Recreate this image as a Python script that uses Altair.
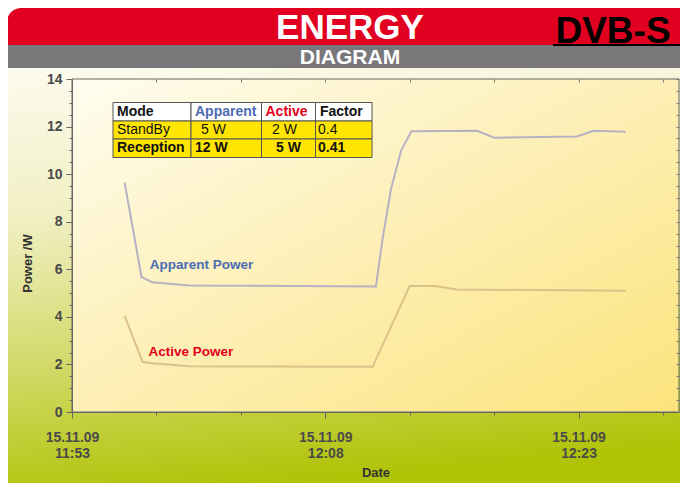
import altair as alt
import pandas as pd

DAY = "2009-11-15"

app_time = ["11:56:07", "11:57:07", "11:57:46", "11:59:56", "12:11:00", "12:11:24",
            "12:11:54", "12:12:30", "12:13:06", "12:17:00", "12:18:00", "12:22:54",
            "12:23:54", "12:25:48"]
app_power = [9.65, 5.67, 5.45, 5.32, 5.28, 7.3, 9.4, 11.0, 11.8, 11.82, 11.53, 11.58,
             11.82, 11.78]
act_time = ["11:56:07", "11:57:11", "11:57:46", "11:59:56", "12:10:48", "12:13:00",
            "12:14:30", "12:15:48", "12:25:48"]
act_power = [4.05, 2.1, 2.05, 1.92, 1.9, 5.3, 5.3, 5.15, 5.1]

series_names = ["Apparent Power", "Active Power"]
series_colors = ["#b7b2c3", "#dbc18a"]
label_colors = ["#4c6cb2", "#e2001a"]
label_time = ["11:57:36", "11:57:32"]
label_power = [6.16, 2.51]

# axis ticks
x_tick_minutes = [(11, 53), (11, 58), (12, 3), (12, 8), (12, 13), (12, 18), (12, 23), (12, 28)]
x_domain = [(11, 53, 0), (12, 28, 57)]
y_ticks = [i * 0.5 for i in range(29)]

# table
table_header = ["Mode", "Apparent", "Active", "Factor"]
table_standby = ["StandBy", "5 W", "2 W", "0.4"]
table_reception = ["Reception", "12 W", "5 W", "0.41"]
header_colors = ["#111111", "#4c6cb2", "#e2001a", "#111111"]

# ---- layout (pixels, relative to plot origin) ----
W, H = 607, 333
col_edges = [41, 119, 189.5, 243.5, 300]
row_edges = [23.5, 42, 60, 78.5]
text_pad = [[4, 4, 4, 4.5], [4, 10, 10.5, 2.5], [4, 4, 14.5, 2.5]]
row_fill = ["#ffffff", "#ffe500", "#ffe500"]
row_bold = [True, False, True]


def dt(h, m, s=0):
    return alt.DateTime(year=2009, month=11, date=15, hours=h, minutes=m, seconds=s)


lines_df = pd.DataFrame({
    "time": pd.to_datetime([f"{DAY}T{t}" for t in app_time + act_time]),
    "power": app_power + act_power,
    "series": [series_names[0]] * len(app_time) + [series_names[1]] * len(act_time),
})
labels_df = pd.DataFrame({
    "time": pd.to_datetime([f"{DAY}T{t}" for t in label_time]),
    "power": label_power,
    "series": series_names,
    "col": label_colors,
})

# table cells
cells, texts = [], []
for r, row in enumerate([table_header, table_standby, table_reception]):
    for c, val in enumerate(row):
        cells.append({"x": col_edges[c], "x2": col_edges[c + 1],
                      "y": row_edges[r], "y2": row_edges[r + 1], "f": row_fill[r]})
        texts.append({"t": val, "x": col_edges[c] + text_pad[r][c],
                      "y": (row_edges[r] + row_edges[r + 1]) / 2,
                      "col": header_colors[c] if r == 0 else "#111111",
                      "bold": row_bold[r]})
cells_df = pd.DataFrame(cells)
texts_df = pd.DataFrame(texts)
one = pd.DataFrame({"k": [0]})

FONT = "Liberation Sans"

bg_grad = {"gradient": "linear", "x1": 0, "y1": 0, "x2": 0.15, "y2": 1,
           "stops": [{"offset": 0, "color": "#fdfbee"},
                     {"offset": 0.35, "color": "#f0efc2"},
                     {"offset": 0.7, "color": "#d1d864"},
                     {"offset": 1, "color": "#b0c306"}]}
plot_grad = {"gradient": "linear", "x1": 0, "y1": 0, "x2": 1, "y2": 1,
             "stops": [{"offset": 0, "color": "#fffdf0"},
                       {"offset": 0.45, "color": "#fdf0ba"},
                       {"offset": 1, "color": "#fce47c"}]}

background = alt.Chart(one).mark_rect(fill=bg_grad).encode(
    x=alt.value(-64), x2=alt.value(620), y=alt.value(-11), y2=alt.value(420))
red_band = alt.Chart(one).mark_rect(fill="#e1001f", cornerRadiusTopLeft=14,
                                    cornerRadiusTopRight=14).encode(
    x=alt.value(-65), x2=alt.value(630), y=alt.value(-71), y2=alt.value(-34))
gray_band = alt.Chart(one).mark_rect(fill="#78787a").encode(
    x=alt.value(-65), x2=alt.value(630), y=alt.value(-34), y2=alt.value(-11))
dvb_bar = alt.Chart(one).mark_rect(fill="#000000").encode(
    x=alt.value(481), x2=alt.value(630), y=alt.value(-35), y2=alt.value(-33))
title1 = alt.Chart(one).mark_text(font=FONT, fontSize=35, fontWeight="bold",
                                  color="white", baseline="middle").encode(
    x=alt.value(278), y=alt.value(-51), text=alt.value("ENERGY"))
title2 = alt.Chart(one).mark_text(font=FONT, fontSize=21, fontWeight="bold",
                                  color="white", baseline="middle").encode(
    x=alt.value(278), y=alt.value(-21), text=alt.value("DIAGRAM"))
title3 = alt.Chart(one).mark_text(font=FONT, fontSize=37,
                                  fontWeight="bold", color="black",
                                  baseline="alphabetic").encode(
    x=alt.value(541), y=alt.value(-36), text=alt.value("DVB-S"))

plot_bg = alt.Chart(one).mark_rect(fill=plot_grad).encode(
    x=alt.value(0), x2=alt.value(W), y=alt.value(0), y2=alt.value(H))

table_cells = alt.Chart(cells_df).mark_rect(stroke="#555555", strokeWidth=1).encode(
    x=alt.X("x:Q", scale=None, axis=None), x2="x2:Q",
    y=alt.Y("y:Q", scale=None, axis=None), y2="y2:Q",
    fill=alt.Fill("f:N", scale=None))
tb = alt.Chart(texts_df)
table_bold = tb.transform_filter("datum.bold").mark_text(
    font=FONT, fontSize=14, fontWeight="bold", align="left", baseline="middle").encode(
    x=alt.X("x:Q", scale=None, axis=None), y=alt.Y("y:Q", scale=None, axis=None),
    text="t:N", color=alt.Color("col:N", scale=None))
table_reg = tb.transform_filter("!datum.bold").mark_text(
    font=FONT, fontSize=14, align="left", baseline="middle").encode(
    x=alt.X("x:Q", scale=None, axis=None), y=alt.Y("y:Q", scale=None, axis=None),
    text="t:N", color=alt.Color("col:N", scale=None))

x_scale = alt.Scale(domain=[dt(*x_domain[0]), dt(*x_domain[1])])
y_scale = alt.Scale(domain=[0, 14], nice=False)

x_axis = alt.Axis(
    values=[dt(h, m) for h, m in x_tick_minutes],
    labelExpr="minutes(datum.value) % 15 == 8 ? [timeFormat(datum.value, '%d.%m.%y'), timeFormat(datum.value, '%H:%M')] : ''",
    tickSize={"condition": {"test": "minutes(datum.value) % 15 == 8", "value": 6}, "value": 3},
    labelFlush=False, labelOverlap=False, labelBound=False,
    labelFont=FONT, labelFontSize=14, labelFontWeight="bold", labelColor="#4a4a4a",
    labelPadding=12, labelLineHeight=16,
    domainColor="#666666", tickColor="#666666", grid=False, zindex=1,
    title="Date", titleFont=FONT, titleFontSize=13, titleFontWeight="bold",
    titleColor="#333333", titlePadding=6)
y_axis = alt.Axis(
    values=y_ticks,
    labelExpr="datum.value % 2 == 0 ? format(datum.value, 'd') : ''",
    tickSize={"condition": {"test": "datum.value % 2 == 0", "value": 6}, "value": 3},
    labelFont=FONT, labelFontSize=14, labelFontWeight="bold", labelColor="#4a4a4a",
    labelPadding=4, labelOverlap=False,
    domainColor="#666666", tickColor="#666666", grid=False, zindex=1,
    title="Power /W", titleFont=FONT, titleFontSize=13, titleFontWeight="bold",
    titleColor="#333333", titleX=-38, titleY=184)

lines = alt.Chart(lines_df).mark_line(strokeWidth=2).encode(
    x=alt.X("time:T", scale=x_scale, axis=x_axis),
    y=alt.Y("power:Q", scale=y_scale, axis=y_axis),
    color=alt.Color("series:N", scale=alt.Scale(domain=series_names, range=series_colors),
                    legend=None),
    detail="series:N")
line_labels = alt.Chart(labels_df).mark_text(
    font=FONT, fontSize=13.5, fontWeight="bold", align="left", baseline="middle").encode(
    x=alt.X("time:T", axis=None), y=alt.Y("power:Q", axis=None), text="series:N",
    color=alt.Color("col:N", scale=None))

# mirrored inward ticks on the top and right edges of the frame
mirror = alt.Chart(lines_df).mark_point(opacity=0).encode(
    x=alt.X("time:T", axis=alt.Axis(orient="top", values=[dt(h, m) for h, m in x_tick_minutes],
                                    labels=False, domain=False, tickSize=3, offset=-3,
                                    tickColor="#777777", grid=False, title=None, zindex=1)),
    y=alt.Y("power:Q", axis=alt.Axis(orient="right", values=y_ticks, labels=False,
                                     domain=False, tickSize=3, offset=-3,
                                     tickColor="#777777", grid=False, title=None, zindex=1)))

frame = alt.Chart(one).mark_rect(filled=False, stroke="#666666", strokeWidth=1).encode(
    x=alt.value(0), x2=alt.value(W), y=alt.value(0), y2=alt.value(H))

chart = alt.layer(
    background, red_band, gray_band, title1, title2, title3, dvb_bar,
    plot_bg, lines, line_labels, mirror, table_cells, table_bold, table_reg, frame
).resolve_axis(x="independent", y="independent").properties(
    width=W, height=H,
    autosize=alt.AutoSizeParams(type="none"),
    padding={"left": 64, "top": 71, "right": 1, "bottom": 71},
    background="white",
).configure_view(stroke=None)

chart.save("out.html", embed_options={"renderer": "svg", "actions": False})
